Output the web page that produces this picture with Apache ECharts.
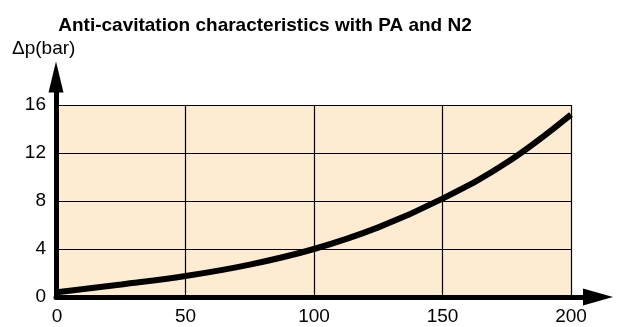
<!DOCTYPE html>
<html>
<head>
<meta charset="utf-8">
<script src="https://cdn.jsdelivr.net/npm/echarts@6/dist/echarts.min.js"></script>
<style>
  html, body { margin: 0; padding: 0; background: #ffffff; }
  #chart { width: 623px; height: 327px; }
</style>
</head>
<body>
<div id="chart"></div>
<script>
// Flow rate (x) and pressure drop in bar (y) along the characteristic curve
const flowValues = [0, 25, 50, 75, 100, 125, 150, 175, 200];
const pressureDrop = [0.4, 1.05, 1.75, 2.7, 4.0, 5.8, 8.2, 11.2, 15.2];
const xTicks = [0, 50, 100, 150, 200];
const yTicks = [0, 4, 8, 12, 16];

const titleText = 'Anti-cavitation characteristics with PA and N2';
const yAxisTitle = 'Δp(bar)';

const FONT = '"Liberation Sans", Arial, Helvetica, sans-serif';

const chart = echarts.init(document.getElementById('chart'), null, { renderer: 'canvas' });

const curve = flowValues.map((x, i) => [x, pressureDrop[i]]);

chart.setOption({
  animation: false,
  backgroundColor: '#ffffff',
  title: {
    text: titleText,
    left: 260,
    textAlign: 'center',
    top: 11,
    textStyle: { fontFamily: FONT, fontWeight: 'bold', fontSize: 19, color: '#000' }
  },
  graphic: [{
    type: 'text',
    left: 12,
    top: 39,
    style: { text: yAxisTitle, fontFamily: FONT, fontSize: 19, fill: '#000' }
  }],
  grid: [
    // plotting area
    { left: 57, right: 52, top: 105, bottom: 30, show: true, backgroundColor: '#FEECD2', borderWidth: 0 },
    // extended frame that carries the arrowed axes
    { left: 56, right: 25, top: 77, bottom: 30, show: false }
  ],
  xAxis: [
    {
      gridIndex: 0, type: 'value', min: xTicks[0], max: xTicks[xTicks.length - 1], interval: 50,
      axisLine: { show: false },
      axisTick: { show: false },
      axisLabel: { fontFamily: FONT, fontSize: 19, color: '#000', margin: 10 },
      splitLine: { show: true, lineStyle: { color: '#000', width: 1.2 } }
    },
    {
      gridIndex: 1, type: 'value', min: 0, max: 1,
      axisLine: {
        show: true, onZero: false,
        symbol: ['none', 'triangle'], symbolSize: [17, 30],
        lineStyle: { color: '#000', width: 5 }
      },
      axisTick: { show: false }, axisLabel: { show: false }, splitLine: { show: false }
    }
  ],
  yAxis: [
    {
      gridIndex: 0, type: 'value', min: yTicks[0], max: yTicks[yTicks.length - 1], interval: 4,
      axisLine: { show: false },
      axisTick: { show: false },
      axisLabel: { fontFamily: FONT, fontSize: 19, color: '#000', margin: 11 },
      splitLine: { show: true, lineStyle: { color: '#000', width: 1.2 } }
    },
    {
      gridIndex: 1, type: 'value', min: 0, max: 1,
      axisLine: {
        show: true, onZero: false,
        symbol: ['none', 'triangle'], symbolSize: [15, 31],
        lineStyle: { color: '#000', width: 5 }
      },
      axisTick: { show: false }, axisLabel: { show: false }, splitLine: { show: false }
    }
  ],
  series: [{
    type: 'line',
    xAxisIndex: 0,
    yAxisIndex: 0,
    data: curve,
    smooth: 0.4,
    symbol: 'none',
    clip: false,
    lineStyle: { color: '#000', width: 6, cap: 'butt' }
  }]
});
</script>
</body>
</html>
